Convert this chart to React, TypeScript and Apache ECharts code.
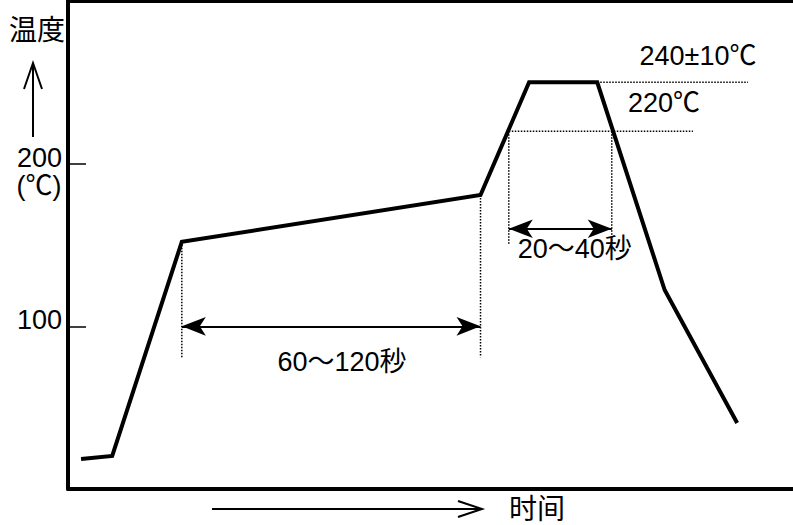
import React, { useEffect, useRef } from "react";
import * as echarts from "echarts";

// Reflow temperature profile (x: relative time units 0-100, y: °C)
const profileX = [1.8, 6.1, 15.7, 56.9, 63.6, 73.0, 82.3, 92.3];
const profileY = [18.4, 20.3, 152, 180.7, 250, 250, 122.3, 40.6];

// dotted guide segments: [x1, y1, x2, y2]
const guideSegments: number[][] = [
  [15.7, 152, 15.7, 81],
  [56.9, 180.7, 56.9, 81],
  [60.8, 220, 60.8, 150],
  [75.0, 220, 75.0, 150],
  [60.8, 220, 86.2, 220],
  [73.0, 250, 93.8, 250],
];

// double-headed span arrows: [xFrom, xTo, y]
const spanArrows: number[][] = [
  [15.7, 56.9, 100],
  [60.8, 75.0, 160],
];

// annotation texts
const annotationX = [37.8, 69.9, 86.9, 82.2];
const annotationY = [78.3, 147.5, 266.3, 237.3];
const annotationText = ["60～120秒", "20～40秒", "240±10℃", "220℃"];

const yTickLabels = [100, 200];

const FONT = "'Liberation Sans', 'Noto Sans CJK JP', sans-serif";

export default function App() {
  const ref = useRef<HTMLDivElement>(null);

  useEffect(() => {
    if (!ref.current) return;
    const chart = echarts.init(ref.current, undefined, { renderer: "svg" });

    const guideSeries = guideSegments.map((s) => ({
      type: "line",
      data: [
        [s[0], s[1]],
        [s[2], s[3]],
      ],
      symbol: "none",
      silent: true,
      lineStyle: { color: "#000", width: 1.5, type: [1.5, 1.5] },
      z: 2,
    }));

    const option: any = {
      animation: false,
      textStyle: { fontFamily: FONT },
      grid: { left: 68, right: 0, top: 1, bottom: 36 },
      xAxis: [
        {
          type: "value",
          min: 0,
          max: 100,
          position: "bottom",
          offset: 2,
          axisLine: { show: true, lineStyle: { color: "#000", width: 4 } },
          axisTick: { show: false },
          axisLabel: { show: false },
          splitLine: { show: false },
        },
        {
          type: "value",
          min: 0,
          max: 100,
          position: "top",
          axisLine: { show: true, lineStyle: { color: "#000", width: 4 } },
          axisTick: { show: false },
          axisLabel: { show: false },
          splitLine: { show: false },
        },
      ],
      yAxis: {
        type: "value",
        min: 0,
        max: 300,
        interval: 100,
        axisLine: { show: true, lineStyle: { color: "#000", width: 4 } },
        axisTick: {
          show: true,
          inside: true,
          length: 18,
          lineStyle: { color: "#000", width: 1.5 },
        },
        axisLabel: {
          show: true,
          color: "#000",
          fontSize: 27,
          fontFamily: FONT,
          margin: 6,
          verticalAlign: "bottom",
          lineHeight: 12,
          formatter: (v: number) => (yTickLabels.includes(v) ? String(v) : ""),
        },
        splitLine: { show: false },
      },
      series: [
        {
          type: "line",
          data: profileX.map((x, i) => [x, profileY[i]]),
          symbol: "none",
          silent: true,
          lineStyle: { color: "#000", width: 4, join: "miter" },
          z: 3,
        },
        ...guideSeries,
        {
          type: "line",
          data: [],
          silent: true,
          markLine: {
            silent: true,
            symbol: ["arrow", "arrow"],
            symbolSize: [14, 24],
            label: { show: false },
            lineStyle: { color: "#000", width: 2, type: "solid" },
            itemStyle: { color: "#000" },
            emphasis: { disabled: true },
            data: spanArrows.map((a) => [
              { coord: [a[0], a[2]] },
              { coord: [a[1], a[2]] },
            ]),
          },
        },
        {
          type: "scatter",
          silent: true,
          symbolSize: 1,
          itemStyle: { color: "rgba(0,0,0,0)", opacity: 1 },
          data: annotationX.map((x, i) => ({
            value: [x, annotationY[i]],
            name: annotationText[i],
          })),
          label: {
            show: true,
            position: "inside",
            formatter: (p: any) => p.name,
            color: "#000",
            fontSize: 27,
            fontFamily: FONT,
          },
          z: 5,
        },
      ],
      graphic: [
        {
          type: "line",
          shape: { x1: 33, y1: 137, x2: 33, y2: 63 },
          style: { stroke: "#000", lineWidth: 2 },
        },
        {
          type: "polyline",
          shape: { points: [[24, 89], [33, 63], [42, 89]] },
          style: { stroke: "#000", lineWidth: 2, fill: null },
        },
        {
          type: "text",
          x: 37,
          y: 30,
          style: {
            text: "温度",
            fill: "#000",
            font: `28px ${FONT}`,
            align: "center",
            verticalAlign: "middle",
          },
        },
        {
          type: "text",
          x: 39,
          y: 186,
          style: {
            text: "(℃)",
            fill: "#000",
            font: `27px ${FONT}`,
            align: "center",
            verticalAlign: "middle",
          },
        },
        {
          type: "line",
          shape: { x1: 212, y1: 509, x2: 482, y2: 509 },
          style: { stroke: "#000", lineWidth: 2 },
        },
        {
          type: "polyline",
          shape: { points: [[458, 501], [482, 509], [458, 517]] },
          style: { stroke: "#000", lineWidth: 2, fill: null },
        },
        {
          type: "text",
          x: 537,
          y: 509,
          style: {
            text: "时间",
            fill: "#000",
            font: `28px ${FONT}`,
            align: "center",
            verticalAlign: "middle",
          },
        },
      ],
    };

    chart.setOption(option);
    return () => chart.dispose();
  }, []);

  return (
    <div
      ref={ref}
      style={{
        position: "fixed",
        left: 0,
        top: 0,
        width: 793,
        height: 525,
        background: "#fff",
      }}
    />
  );
}
